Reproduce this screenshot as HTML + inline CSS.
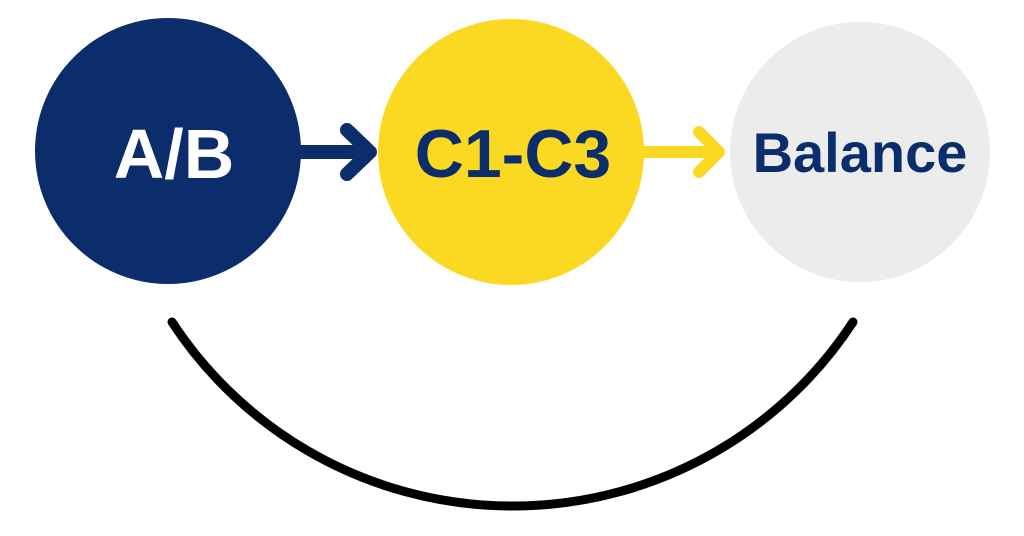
<!DOCTYPE html>
<html><head><meta charset="utf-8"><style>
html,body{margin:0;padding:0;background:#fff;}
svg{display:block;}
text{font-family:"Liberation Sans",sans-serif;font-weight:bold;}
</style></head><body>
<svg width="1024" height="536" viewBox="0 0 1024 536" xmlns="http://www.w3.org/2000/svg">
<rect width="1024" height="536" fill="#fff"/>
<circle cx="168" cy="151" r="133" fill="#0b2d6b"/>
<circle cx="511" cy="152" r="133" fill="#fbd923"/>
<circle cx="860" cy="152" r="130" fill="#ececec"/>
<line x1="298" y1="152" x2="368" y2="152" stroke="#0b2d6b" stroke-width="14"/>
<polyline points="347,130 370,152 347,174" fill="none" stroke="#0b2d6b" stroke-width="14" stroke-linecap="round" stroke-linejoin="round"/>
<line x1="642" y1="152" x2="716" y2="152" stroke="#fbd923" stroke-width="12"/>
<polyline points="699,132 719,152 699,172" fill="none" stroke="#fbd923" stroke-width="12" stroke-linecap="round" stroke-linejoin="round"/>
<path d="M172 322 A407 407 0 0 0 853 322" fill="none" stroke="#000" stroke-width="9" stroke-linecap="round"/>
<text x="174" y="178" font-size="70" fill="#fff" text-anchor="middle">A/B</text>
<text x="513" y="177" font-size="68" fill="#0b2d6b" text-anchor="middle">C1-C3</text>
<text x="860" y="172" font-size="56" fill="#0b2d6b" text-anchor="middle">Balance</text>
</svg>
</body></html>
